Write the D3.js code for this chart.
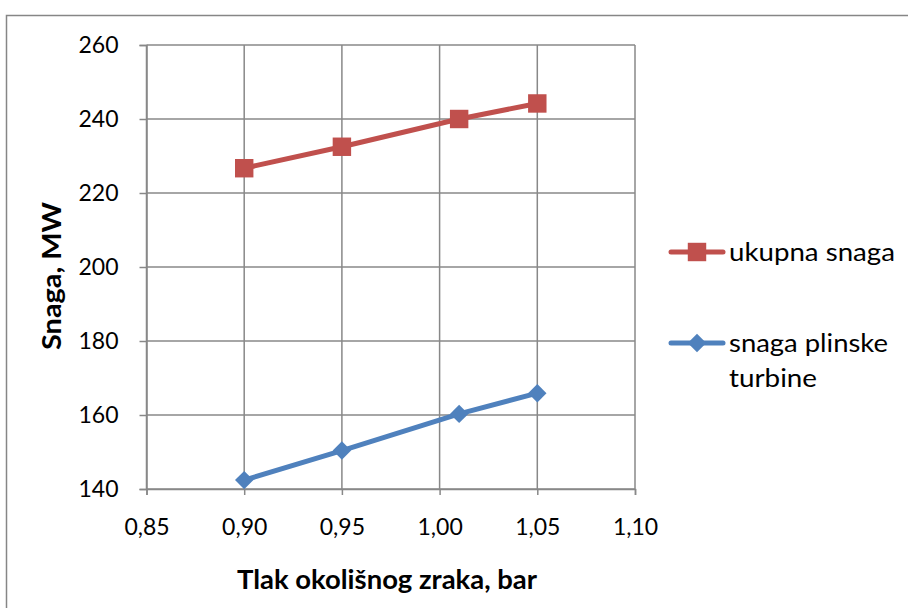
<!DOCTYPE html>
<html>
<head>
<meta charset="utf-8">
<script src="https://cdn.jsdelivr.net/npm/d3@7"></script>
<style>
  html, body { margin: 0; padding: 0; background: #fff; }
  svg { display: block; }
  text { font-family: Lato, "Open Sans", sans-serif; fill: #000; }
</style>
</head>
<body>
<svg id="chart" width="908" height="608"></svg>
<script>
// Ambient air pressure (bar)
const pressure = [0.90, 0.95, 1.01, 1.05];
// Total output (MW)
const totalPower = [226.7, 232.5, 240.0, 244.2];
// Gas turbine output (MW)
const gasTurbinePower = [142.4, 150.4, 160.3, 165.9];

const xTicks = [0.85, 0.90, 0.95, 1.00, 1.05, 1.10];
const yTicks = [140, 160, 180, 200, 220, 240, 260];

const seriesNames = ["ukupna snaga", "snaga plinske turbine"];
const seriesColors = ["#C0504D", "#4F81BD"];

const svg = d3.select("#chart");
const gridColor = "#888888";
const fontFamily = "Lato, 'Open Sans', sans-serif";

// Outer chart frame
svg.append("rect")
  .attr("x", 6.5).attr("y", 15.5)
  .attr("width", 1000).attr("height", 1000)
  .attr("fill", "none").attr("stroke", "#868686").attr("stroke-width", 1.5);

const plot = { left: 146.5, right: 635, top: 45, bottom: 489 };

const x = d3.scaleLinear().domain([0.85, 1.10]).range([plot.left, plot.right]);
const y = d3.scaleLinear().domain([140, 260]).range([plot.bottom, plot.top]);

const fmt = d => d3.format(".2f")(d).replace(".", ",");

// Gridlines
svg.append("g")
  .selectAll("line")
  .data(xTicks)
  .join("line")
  .attr("x1", d => x(d)).attr("x2", d => x(d))
  .attr("y1", plot.top).attr("y2", plot.bottom)
  .attr("stroke", gridColor).attr("stroke-width", 1.5);

svg.append("g")
  .selectAll("line")
  .data(yTicks)
  .join("line")
  .attr("x1", plot.left).attr("x2", plot.right)
  .attr("y1", d => y(d)).attr("y2", d => y(d))
  .attr("stroke", gridColor).attr("stroke-width", 1.5);

// Axes
const xAxis = d3.axisBottom(x).tickValues(xTicks).tickFormat(fmt).tickSize(6).tickPadding(24);
const yAxis = d3.axisLeft(y).tickValues(yTicks).tickSize(7).tickPadding(21);

const gx = svg.append("g").attr("transform", `translate(0,${plot.bottom})`).call(xAxis);
const gy = svg.append("g").attr("transform", `translate(${plot.left},0)`).call(yAxis);

[gx, gy].forEach(g => {
  g.select(".domain").attr("stroke", gridColor).attr("stroke-width", 1.5);
  g.selectAll(".tick line").attr("stroke", gridColor).attr("stroke-width", 1.5);
  g.selectAll(".tick text")
    .attr("font-family", fontFamily)
    .attr("font-size", 23).attr("fill", "#000");
});

// Axis titles
svg.append("text")
  .attr("x", 387).attr("y", 589)
  .attr("text-anchor", "middle")
  .attr("font-size", 26).attr("font-weight", "bold")
  .attr("textLength", 300).attr("lengthAdjust", "spacingAndGlyphs")
  .text("Tlak okolišnog zraka, bar");

svg.append("text")
  .attr("transform", "translate(61,276) rotate(-90)")
  .attr("text-anchor", "middle")
  .attr("font-size", 26).attr("font-weight", "bold")
  .attr("textLength", 148).attr("lengthAdjust", "spacingAndGlyphs")
  .text("Snaga, MW");

// Series
const series = [
  { name: seriesNames[0], color: seriesColors[0], values: totalPower, symbol: d3.symbolSquare, size: 340, rot: 0 },
  { name: seriesNames[1], color: seriesColors[1], values: gasTurbinePower, symbol: d3.symbolSquare, size: 170, rot: 45 }
];

const line = d3.line().x(d => x(d[0])).y(d => y(d[1]));

series.forEach(s => {
  const pts = pressure.map((p, i) => [p, s.values[i]]);
  svg.append("path")
    .datum(pts)
    .attr("d", line)
    .attr("fill", "none")
    .attr("stroke", s.color)
    .attr("stroke-width", 5)
    .attr("stroke-linejoin", "round");
  svg.append("g")
    .selectAll("path")
    .data(pts)
    .join("path")
    .attr("transform", d => `translate(${x(d[0])},${y(d[1])}) rotate(${s.rot})`)
    .attr("d", d3.symbol(s.symbol, s.size))
    .attr("fill", s.color);
});

// Legend
const legendRows = [
  { s: series[0], cy: 252, lines: [["ukupna snaga", 166]] },
  { s: series[1], cy: 343, lines: [["snaga plinske", 159], ["turbine", 88]] }
];

legendRows.forEach(r => {
  const g = svg.append("g");
  g.append("line")
    .attr("x1", 671).attr("x2", 723)
    .attr("y1", r.cy).attr("y2", r.cy)
    .attr("stroke", r.s.color).attr("stroke-width", 5).attr("stroke-linecap", "round");
  g.append("path")
    .attr("transform", `translate(697,${r.cy}) rotate(${r.s.rot})`)
    .attr("d", d3.symbol(r.s.symbol, r.s.size))
    .attr("fill", r.s.color);
  r.lines.forEach(([ln, w], i) => {
    g.append("text")
      .attr("x", 729).attr("y", r.cy + 9 + i * 35)
      .attr("font-size", 25)
      .attr("textLength", w).attr("lengthAdjust", "spacingAndGlyphs")
      .text(ln);
  });
});
</script>
</body>
</html>
